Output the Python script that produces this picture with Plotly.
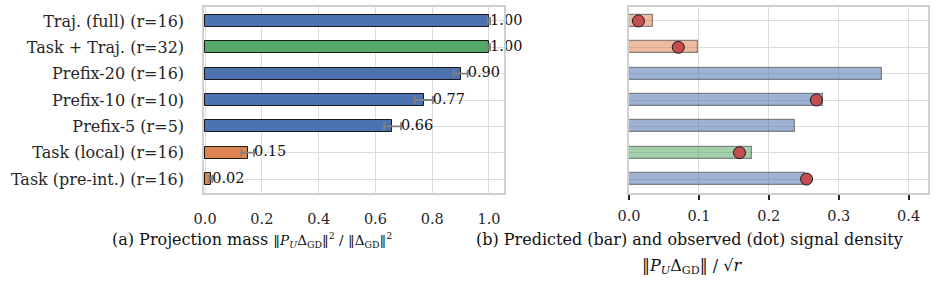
import plotly.graph_objects as go

# ---------------- data ----------------
categories = ["Traj. (full) (r=16)", "Task + Traj. (r=32)", "Prefix-20 (r=16)",
              "Prefix-10 (r=10)", "Prefix-5 (r=5)", "Task (local) (r=16)",
              "Task (pre-int.) (r=16)"]
proj_mass = [1.00, 1.00, 0.90, 0.77, 0.66, 0.15, 0.02]
proj_err = [0.004, 0.004, 0.025, 0.032, 0.03, 0.022, 0.005]
proj_labels = ["1.00", "1.00", "0.90", "0.77", "0.66", "0.15", "0.02"]
left_colors = ["#4C72B0", "#55A868", "#4C72B0", "#4C72B0", "#4C72B0", "#DD8452", "#DD8452"]

pred_density = [0.034, 0.098, 0.362, 0.277, 0.238, 0.176, 0.252]
obs_density = [0.0135, 0.0705, None, 0.268, None, 0.158, 0.254]
right_colors = ["rgba(221,132,82,0.55)", "rgba(221,132,82,0.55)", "rgba(76,114,176,0.55)",
                "rgba(76,114,176,0.55)", "rgba(76,114,176,0.55)", "rgba(85,168,104,0.55)",
                "rgba(76,114,176,0.55)"]

left_ticks = [0.0, 0.2, 0.4, 0.6, 0.8, 1.0]
right_ticks = [0.0, 0.1, 0.2, 0.3, 0.4]

FONT = "DejaVu Serif"
TXT = "#262626"
GRID = "#dcdcdc"
W, H = 936, 283

fig = go.Figure()

# left panel bars
fig.add_trace(go.Bar(
    y=categories, x=proj_mass, orientation="h", width=0.45,
    marker=dict(color=left_colors, line=dict(color="#1a1a1a", width=1)),
    error_x=dict(type="data", array=proj_err, color="#808080", thickness=1.8, width=4),
    xaxis="x", yaxis="y", showlegend=False,
))
fig.add_trace(go.Scatter(
    y=categories, x=[v + e for v, e in zip(proj_mass, proj_err)], mode="text",
    text=proj_labels, textposition="middle right",
    textfont=dict(family=FONT, size=14.5, color="#111111"),
    xaxis="x", yaxis="y", showlegend=False, cliponaxis=False,
))

# right panel
fig.add_trace(go.Bar(
    y=categories, x=pred_density, orientation="h", width=0.45,
    marker=dict(color=right_colors, line=dict(color="rgba(70,70,70,0.6)", width=1.2)),
    xaxis="x2", yaxis="y2", showlegend=False,
))
fig.add_trace(go.Scatter(
    y=categories, x=obs_density, mode="markers",
    marker=dict(color="#C44E52", size=12, line=dict(color="#1a1a1a", width=1)),
    xaxis="x2", yaxis="y2", showlegend=False, cliponaxis=False,
))

ydom = [1 - 193 / H, 1 - 7 / H]
axis_common = dict(showgrid=True, gridcolor=GRID, gridwidth=1.3, zeroline=False,
                   showline=True, linecolor="#cfcfcf", linewidth=1.5, mirror=True,
                   automargin=False)

fig.update_layout(
    width=W, height=H, margin=dict(l=0, r=0, t=0, b=0, autoexpand=False),
    paper_bgcolor="white", plot_bgcolor="white",
    font=dict(family=FONT, size=16, color=TXT),
    bargap=0,
    xaxis=dict(domain=[204 / W, 504 / W], range=[-0.004, 1.053], tickvals=left_ticks,
               ticktext=[f"{t:.1f}" for t in left_ticks], ticks="", ticklabelstandoff=12,
               tickfont=dict(size=14.5), anchor="y", **axis_common),
    yaxis=dict(domain=ydom, categoryorder="array", categoryarray=categories,
               range=[6.53, -0.53], ticks="", ticklabelstandoff=15, anchor="x",
               tickfont=dict(size=16), **axis_common),
    xaxis2=dict(domain=[629 / W, 928 / W], range=[0, 0.4277], tickvals=right_ticks,
                ticktext=[f"{t:.1f}" for t in right_ticks], ticks="outside", ticklen=5,
                tickwidth=1.5, tickcolor=TXT, ticklabelstandoff=4, anchor="y2",
                tickfont=dict(size=14.5), **axis_common),
    yaxis2=dict(domain=ydom, categoryorder="array", categoryarray=categories,
                range=[6.53, -0.53], showticklabels=False, ticks="", anchor="x2",
                **axis_common),
)

cap = dict(xref="paper", yref="paper", showarrow=False, yanchor="middle",
           font=dict(family=FONT, size=16, color="#111111"))
fig.add_annotation(
    x=394 / W, y=1 - 240 / H, xanchor="right",
    text="(a) Projection mass <span style='font-size:13.5px'>‖<i>P</i><sub><i>U</i></sub>Δ<sub>GD</sub>‖<sup>2</sup> / ‖Δ<sub>GD</sub>‖<sup>2</sup></span>",
    **cap)
fig.add_annotation(
    x=689 / W, y=1 - 239 / H, xanchor="center",
    text="(b) Predicted (bar) and observed (dot) signal density", **cap)
fig.add_annotation(
    x=692 / W, y=1 - 266 / H, xanchor="center",
    text="‖<i>P</i><sub><i>U</i></sub>Δ<sub>GD</sub>‖ / √<i>r</i>", **cap)

fig.write_html("out.html")
